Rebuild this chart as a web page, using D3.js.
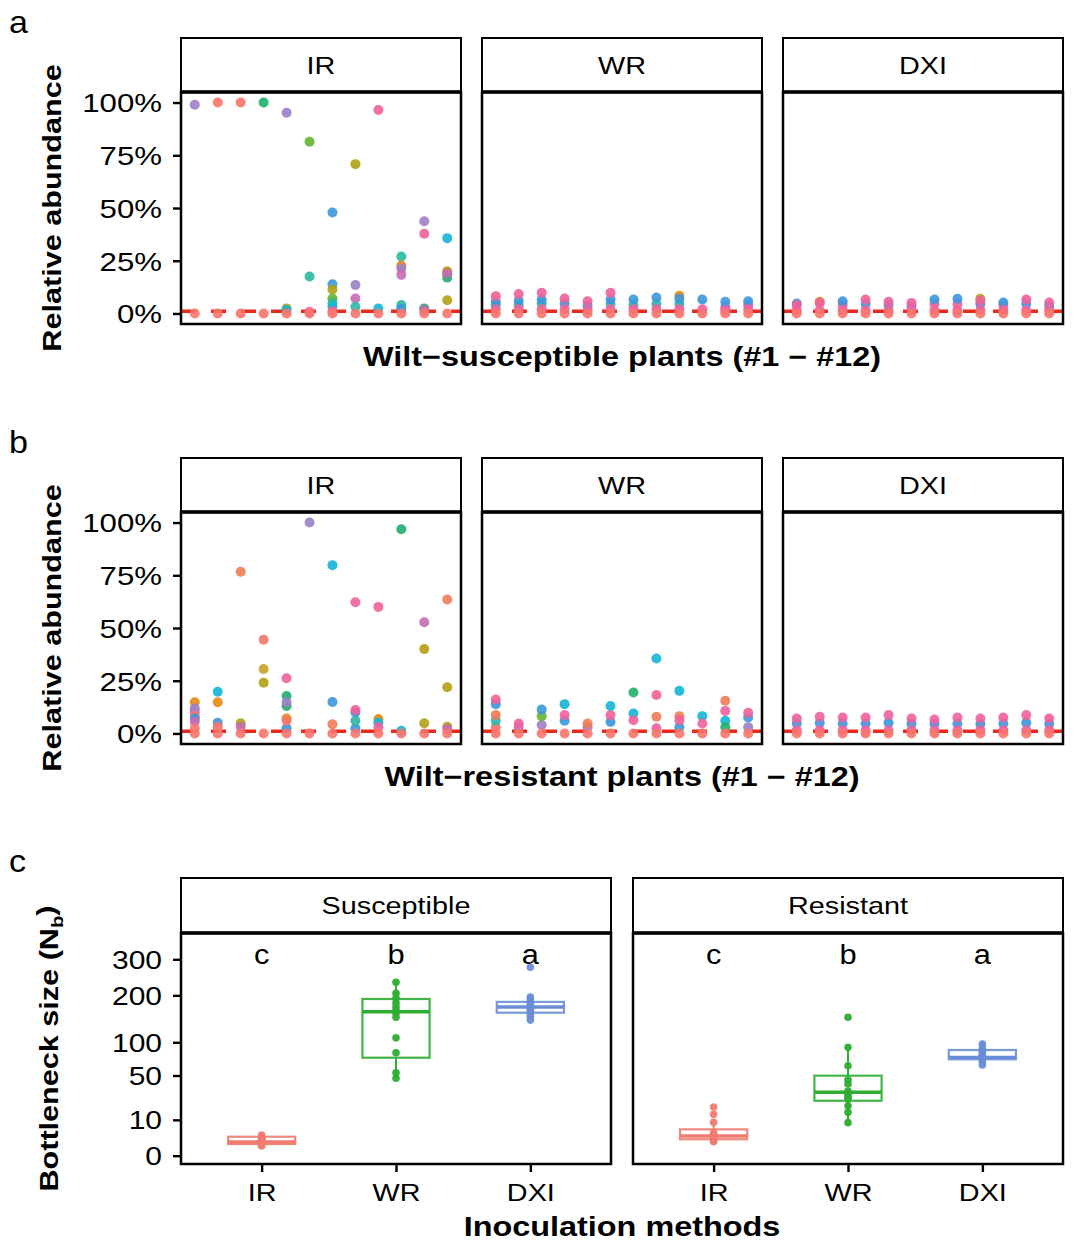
<!DOCTYPE html>
<html><head><meta charset="utf-8">
<script src="https://cdn.jsdelivr.net/npm/d3@7"></script>
<style>body{margin:0;background:#fff}</style>
</head><body><svg id="chart" width="1080" height="1249"></svg>
<script>
// ---------------- DATA ----------------
const plants = ["1","2","3","4","5","6","7","8","9","10","11","12"];
const methods = ["IR","WR","DXI"];
const cultivars = ["Susceptible","Resistant"];
const percentTicks = [0, 0.25, 0.5, 0.75, 1];
const percentLabels = ["0%","25%","50%","75%","100%"];
const bottleneckTicks = [0, 10, 50, 100, 200, 300];
const threshold = 0.01;
const sigLetters = ["c","b","a"];
const strainColors = ["#F8766D","#E58A0E","#B3A114","#63B22F","#1FAE6C","#2BB8A2",
                      "#14B5D6","#3A97DC","#9D80C8","#C56CB3","#F0619C","#C9A227","#EE7C57"];
const methodColors = ["#F07B70","#2EAD33","#6A8ED6"];

// relative abundance of barcoded strains per plant: [strainIndex, value]
const susceptibleIR = [
  [[8,0.99],[0,0]],
  [[0,1.0],[0,0]],
  [[0,1.0],[0,0]],
  [[4,1.0],[0,0]],
  [[8,0.952],[2,0.024],[6,0.016],[0,0]],
  [[3,0.814],[5,0.175],[10,0.008],[0,0]],
  [[7,0.479],[7,0.138],[2,0.114],[3,0.071],[5,0.048],[6,0.032],[10,0.01],[0,0]],
  [[2,0.708],[8,0.135],[9,0.071],[5,0.032],[0,0]],
  [[10,0.965],[6,0.024],[0,0]],
  [[5,0.27],[1,0.227],[8,0.214],[9,0.183],[5,0.04],[7,0.024],[0,0]],
  [[8,0.437],[10,0.378],[4,0.024],[9,0.016],[0,0]],
  [[6,0.357],[2,0.2],[1,0.19],[4,0.17],[9,0.19],[2,0.063],[0,0]]
];
const susceptibleWR = [
  [[5,0.04],[7,0.055],[10,0.082],[10,0.02],[0,0]],
  [[5,0.04],[7,0.06],[10,0.092],[10,0.02],[0,0]],
  [[5,0.047],[7,0.066],[10,0.098],[10,0.02],[0,0]],
  [[7,0.047],[10,0.071],[10,0.02],[0,0]],
  [[7,0.035],[10,0.058],[10,0.015],[0,0]],
  [[5,0.045],[7,0.066],[10,0.098],[10,0.02],[0,0]],
  [[5,0.04],[7,0.066],[10,0.02],[0,0]],
  [[5,0.045],[7,0.076],[10,0.02],[0,0]],
  [[5,0.045],[1,0.084],[7,0.07],[10,0.02],[0,0]],
  [[7,0.066],[10,0.02],[0,0]],
  [[9,0.03],[7,0.055],[10,0.015],[0,0]],
  [[9,0.04],[7,0.058],[10,0.02],[0,0]]
];
const susceptibleDXI = [
  [[7,0.047],[10,0.04],[10,0.015],[0,0]],
  [[1,0.055],[10,0.05],[10,0.015],[0,0]],
  [[10,0.04],[7,0.058],[10,0.015],[0,0]],
  [[7,0.045],[10,0.066],[10,0.015],[0,0]],
  [[7,0.04],[10,0.055],[10,0.015],[0,0]],
  [[7,0.035],[10,0.05],[10,0.015],[0,0]],
  [[10,0.045],[7,0.066],[10,0.015],[0,0]],
  [[10,0.045],[7,0.07],[10,0.015],[0,0]],
  [[7,0.045],[2,0.07],[10,0.06],[10,0.015],[0,0]],
  [[10,0.04],[7,0.052],[10,0.015],[0,0]],
  [[7,0.045],[10,0.066],[10,0.015],[0,0]],
  [[7,0.035],[10,0.052],[10,0.015],[0,0]]
];
const resistantIR = [
  [[1,0.148],[8,0.119],[8,0.103],[0,0.084],[7,0.071],[9,0.056],[0,0.024],[0,0]],
  [[6,0.198],[1,0.148],[7,0.051],[0,0.032],[0,0]],
  [[12,0.767],[2,0.048],[9,0.032],[0,0]],
  [[0,0.444],[11,0.306],[2,0.241],[0,0]],
  [[10,0.262],[4,0.178],[4,0.13],[8,0.148],[1,0.071],[7,0.024],[0,0.06],[0,0]],
  [[8,1.0],[0,0]],
  [[6,0.798],[7,0.149],[12,0.044],[0,0]],
  [[10,0.622],[7,0.024],[5,0.06],[7,0.1],[10,0.111],[0,0]],
  [[10,0.6],[1,0.068],[6,0.052],[10,0.029],[0,0]],
  [[4,0.968],[6,0.013],[0,0]],
  [[9,0.527],[2,0.4],[2,0.048],[0,0]],
  [[12,0.635],[2,0.219],[2,0.032],[9,0.021],[0,0]]
];
const resistantWR = [
  [[0,0.03],[5,0.06],[12,0.087],[7,0.139],[10,0.161],[0,0]],
  [[9,0.03],[10,0.047],[0,0]],
  [[8,0.04],[3,0.082],[7,0.114],[0,0]],
  [[7,0.06],[10,0.087],[6,0.139],[0,0]],
  [[8,0.03],[12,0.047],[0,0]],
  [[7,0.055],[10,0.087],[6,0.13],[0,0]],
  [[4,0.194],[6,0.095],[10,0.063],[0,0]],
  [[6,0.355],[10,0.182],[12,0.079],[10,0.025],[0,0]],
  [[6,0.202],[12,0.082],[7,0.03],[10,0.063],[0,0]],
  [[6,0.082],[10,0.047],[0,0]],
  [[12,0.155],[6,0.06],[10,0.107],[4,0.03],[0,0]],
  [[7,0.076],[10,0.098],[8,0.03],[0,0]]
];
const resistantDXI = [
  [[7,0.047],[10,0.071],[10,0.015],[0,0]],
  [[7,0.05],[10,0.079],[10,0.015],[0,0]],
  [[7,0.047],[10,0.076],[10,0.015],[0,0]],
  [[7,0.047],[10,0.076],[10,0.015],[0,0]],
  [[7,0.05],[10,0.087],[10,0.015],[0,0]],
  [[7,0.045],[10,0.071],[10,0.015],[0,0]],
  [[7,0.045],[10,0.066],[10,0.015],[0,0]],
  [[7,0.047],[10,0.076],[10,0.015],[0,0]],
  [[7,0.045],[10,0.071],[10,0.015],[0,0]],
  [[7,0.047],[10,0.076],[10,0.015],[0,0]],
  [[7,0.05],[10,0.087],[10,0.015],[0,0]],
  [[7,0.045],[10,0.071],[10,0.015],[0,0]]
];

// bottleneck size (Nb) per plant
const susceptibleNb = [
  [3.3,2.8,2.5,2.2,2.0,1.8,1.6,1.5,1.3,1.1,0.9,0.75],
  [234,205,193,182,173,165,158,149,108,82.5,53.6,46.6],
  [276,196,190,182,178,172,168,165,160,155,150,143]
];
const resistantNb = [
  [18.5,13.3,8.7,4.0,3.5,3.0,2.8,2.5,2.2,2.0,1.8,1.5],
  [149,91.4,63,44.6,40,32.5,29.6,27,25,19.4,14.6,8.5],
  [97,90,85,82,80,78,75,72,68,64]
];
// box statistics: [lower whisker, Q1, median, Q3, upper whisker]
const susceptibleBox = [[0.75,1.06,1.46,2.8,3.3],[46.6,74.7,161,191,234],[143,159,172,184,196]];
const resistantBox = [[1.5,2.1,3.0,5.4,8.7],[8.5,23.5,31.3,49.8,91.4],[64,72.3,75,86.9,97]];

// ---------------- DRAWING ----------------
const FONT = '"Liberation Sans", Arial, Helvetica, sans-serif';
const SX = 1.2;
const svg = d3.select("#chart");

function label(g, x, y, s, o = {}) {
  const t = g.append("text")
    .attr("transform", `translate(${x},${y}) rotate(${o.rot || 0}) scale(${o.sx || SX},1)`)
    .attr("text-anchor", o.anchor || "middle")
    .attr("font-size", o.size || 24)
    .attr("font-weight", o.bold ? "bold" : "normal")
    .attr("font-family", FONT)
    .attr("fill", "#000");
  if (o.dy) t.attr("dy", o.dy);
  t.text(s);
  return t;
}

function strip(g, x, y, w, h, s) {
  g.append("rect").attr("x", x).attr("y", y).attr("width", w).attr("height", h)
    .attr("fill", "#fff").attr("stroke", "#000").attr("stroke-width", 2);
  label(g, x + w / 2, y + h / 2, s, {size: 24, dy: "0.36em"});
}

function styleYAxis(ax, size) {
  ax.select(".domain").remove();
  ax.selectAll(".tick line").attr("stroke", "#000").attr("stroke-width", 2.4);
  ax.selectAll(".tick text")
    .attr("x", -19 / SX).attr("dy", "0.36em")
    .attr("transform", `scale(${SX},1)`)
    .attr("font-size", size).attr("font-family", FONT).attr("fill", "#000");
}

const rows = [
  {letter: "a", letterY: 33, top: 38, data: [susceptibleIR, susceptibleWR, susceptibleDXI],
   title: "Wilt\u2212susceptible plants (#1 \u2212 #12)"},
  {letter: "b", letterY: 453, top: 458, data: [resistantIR, resistantWR, resistantDXI],
   title: "Wilt\u2212resistant plants (#1 \u2212 #12)"}
];
const facetLeft = 181, facetW = 280, facetGap = 21, stripH = 54, panelH = 232;

rows.forEach(row => {
  const g = svg.append("g");
  label(g, 9, row.letterY, row.letter, {size: 31, anchor: "start", sx: 1.1});
  const pTop = row.top + stripH, pBot = pTop + panelH;
  const y = d3.scaleLinear().domain([-0.05, 1.05]).range([pBot, pTop]);
  methods.forEach((m, i) => {
    const x0 = facetLeft + i * (facetW + facetGap);
    const x = d3.scalePoint().domain(plants).range([x0, x0 + facetW]).padding(0.6);
    strip(g, x0, row.top, facetW, stripH, m);
    // threshold line
    g.append("line").attr("x1", x0).attr("x2", x0 + facetW)
      .attr("y1", y(threshold)).attr("y2", y(threshold))
      .attr("stroke", "#E8291C").attr("stroke-width", 3.5).attr("stroke-dasharray", "15,15");
    // points
    row.data[i].forEach((pts, pi) => {
      g.selectAll(null).data(pts).enter().append("circle")
        .attr("cx", x(plants[pi])).attr("cy", d => y(d[1])).attr("r", 5)
        .attr("fill", d => strainColors[d[0]]).attr("fill-opacity", 0.9);
    });
    g.append("rect").attr("x", x0).attr("y", pTop).attr("width", facetW).attr("height", panelH)
      .attr("fill", "none").attr("stroke", "#000").attr("stroke-width", 2.5);
    g.append("line").attr("x1", x0 - 1).attr("x2", x0 + facetW + 1).attr("y1", pTop).attr("y2", pTop)
      .attr("stroke", "#000").attr("stroke-width", 3.5);
    if (i === 0) {
      const ax = g.append("g").attr("transform", `translate(${x0},0)`)
        .call(d3.axisLeft(y).tickValues(percentTicks).tickFormat((d, k) => percentLabels[k]).tickSize(8));
      styleYAxis(ax, 26);
    }
  });
  label(g, 61, (pTop + pBot) / 2, "Relative abundance", {size: 25.5, bold: true, rot: -90});
  label(g, 622, pBot + 42, row.title, {size: 27, bold: true});
});

// ---------- panel c ----------
const gc = svg.append("g");
label(gc, 9, 872, "c", {size: 31, anchor: "start", sx: 1.1});
const cStripTop = 878, cTop = 933, cBot = 1164;
const cLefts = [181, 633], cW = 430;
const yC = d3.scaleLinear().domain([-0.732, 19.64]).range([cBot, cTop]); // sqrt-transformed axis
const sq = v => yC(Math.sqrt(v));
const nbData = [susceptibleNb, resistantNb];
const boxData = [susceptibleBox, resistantBox];

cultivars.forEach((cv, ci) => {
  const x0 = cLefts[ci];
  const x = d3.scalePoint().domain(methods).range([x0, x0 + cW]).padding(0.6);
  const bw = x.step() * 0.5;
  strip(gc, x0, cStripTop, cW, cTop - cStripTop, cv);
  methods.forEach((m, mi) => {
    const [lo, q1, med, q3, hi] = boxData[ci][mi];
    const cx = x(m), col = methodColors[mi];
    const bg = gc.append("g").attr("stroke", col).attr("fill", "none");
    bg.append("line").attr("x1", cx).attr("x2", cx).attr("y1", sq(hi)).attr("y2", sq(q3)).attr("stroke-width", 2);
    bg.append("line").attr("x1", cx).attr("x2", cx).attr("y1", sq(q1)).attr("y2", sq(lo)).attr("stroke-width", 2);
    bg.append("rect").attr("x", cx - bw / 2).attr("width", bw)
      .attr("y", sq(q3)).attr("height", Math.max(sq(q1) - sq(q3), 1))
      .attr("fill", "#fff").attr("stroke-width", 2.2).attr("stroke-opacity", 0.9);
    bg.append("line").attr("x1", cx - bw / 2).attr("x2", cx + bw / 2)
      .attr("y1", sq(med)).attr("y2", sq(med)).attr("stroke-width", 3.6);
    gc.selectAll(null).data(nbData[ci][mi]).enter().append("circle")
      .attr("cx", cx).attr("cy", d => sq(d)).attr("r", 3.8)
      .attr("fill", col).attr("fill-opacity", 0.95);
    label(gc, cx, sq(315), sigLetters[mi], {size: 28, sx: 1.1, dy: "0.35em"});
  });
  gc.append("rect").attr("x", x0).attr("y", cTop).attr("width", cW).attr("height", cBot - cTop)
    .attr("fill", "none").attr("stroke", "#000").attr("stroke-width", 2.5);
  gc.append("line").attr("x1", x0 - 1).attr("x2", x0 + cW + 1).attr("y1", cTop).attr("y2", cTop)
    .attr("stroke", "#000").attr("stroke-width", 3.5);
  const axb = gc.append("g").attr("transform", `translate(0,${cBot})`).call(d3.axisBottom(x).tickSize(8));
  axb.select(".domain").remove();
  axb.selectAll(".tick line").attr("stroke", "#000").attr("stroke-width", 2.4);
  axb.selectAll(".tick text").attr("y", 37).attr("dy", 0)
    .attr("transform", `scale(${SX},1)`)
    .attr("font-size", 24).attr("font-family", FONT).attr("fill", "#000");
  if (ci === 0) {
    const ax = gc.append("g").attr("transform", `translate(${x0},0)`)
      .call(d3.axisLeft(yC).tickValues(bottleneckTicks.map(Math.sqrt))
        .tickFormat((d, k) => bottleneckTicks[k]).tickSize(8));
    styleYAxis(ax, 25);
  }
});
const yt = label(gc, 58, (cTop + cBot) / 2, "", {size: 25.5, bold: true, rot: -90});
yt.append("tspan").text("Bottleneck size (N");
yt.append("tspan").text("b").attr("font-size", 17).attr("dy", "0.3em");
yt.append("tspan").text(")").attr("dy", "-0.3em");
label(gc, 622, 1236, "Inoculation methods", {size: 27, bold: true});
</script>
</body></html>
